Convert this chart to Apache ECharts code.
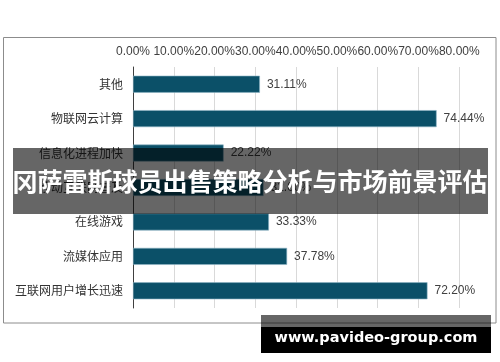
<!DOCTYPE html>
<html><head><meta charset="utf-8">
<script src="https://cdn.jsdelivr.net/npm/echarts@6/dist/echarts.min.js"></script>
<style>html,body{margin:0;padding:0;background:#fff;}#c{width:500px;height:362px;}</style>
</head><body><div id="c"></div>
<script>
var categories = ['其他','物联网云计算','信息化进程加快','移动互联网普及','在线游戏','流媒体应用','互联网用户增长迅速'];
var values = [31.11, 74.44, 22.22, 32.00, 33.33, 37.78, 72.20];
var xTicks = [0,10,20,30,40,50,60,70,80];
var titleText = '冈萨雷斯球员出售策略分析与市场前景评估';
var watermark = 'www.pavideo-group.com';

var chart = echarts.init(document.getElementById('c'), null, {renderer:'canvas'});
chart.setOption({
  animation:false,
  grid:{left:133, right:40.7, top:67, bottom:54, containLabel:false},
  xAxis:{type:'value', position:'top', min:0, max:80, interval:10,
    axisLine:{show:false}, axisTick:{show:false},
    splitLine:{show:true, lineStyle:{color:'#d9d9d9', width:1}},
    axisLabel:{formatter:function(v){return v.toFixed(2)+'%';}, color:'#404040', fontSize:12, fontFamily:'Liberation Sans, Arial', margin:9}
  },
  yAxis:{type:'category', inverse:true, data:categories,
    axisLine:{show:true, lineStyle:{color:'#404040', width:1}},
    axisTick:{show:false},
    axisLabel:{color:'#333', fontSize:12, fontFamily:'Noto Sans CJK SC', margin:10}
  },
  series:[{type:'bar', data:values, barWidth:17,
    itemStyle:{color:'#0b5068', borderColor:'#8fb6c6', borderWidth:0.6},
    label:{show:true, position:'right', distance:7, color:'#404040', fontSize:12, fontFamily:'Liberation Sans, Arial',
      formatter:function(p){return p.value.toFixed(2)+'%';}}
  }],
  graphic:[
    {type:'rect', z:1, silent:true, shape:{x:3.5, y:37.5, width:492.5, height:285.5}, style:{fill:null, stroke:'#8c8c8c', lineWidth:1}},
    {type:'rect', z:100, shape:{x:13, y:148, width:475, height:66}, style:{fill:'rgba(0,0,0,0.6)'}},
    {type:'text', z:101, x:250, y:181, style:{text:titleText, fill:'#fff', fontSize:25, fontWeight:'bold', fontFamily:'Noto Sans CJK SC', align:'center', verticalAlign:'middle'}},
    {type:'rect', z:100, shape:{x:261, y:315, width:230, height:12}, style:{fill:'rgba(0,0,0,0.6)'}},
    {type:'rect', z:100, shape:{x:261, y:327, width:230, height:26}, style:{fill:'#000'}},
    {type:'text', z:101, x:376, y:338, style:{text:watermark, fill:'#fff', fontSize:14.5, fontWeight:'bold', fontFamily:'DejaVu Sans', align:'center', verticalAlign:'middle'}}
  ]
});
</script></body></html>
